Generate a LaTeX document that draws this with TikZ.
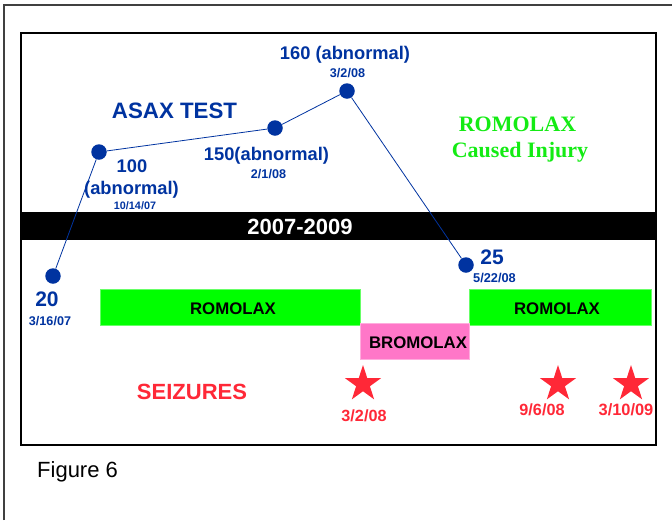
\documentclass[tikz,border=0pt]{standalone}
\usepackage{fontspec}
\setmainfont{Liberation Sans}
\newfontfamily\serifbold{Liberation Serif}
\usetikzlibrary{shapes.geometric}
\definecolor{tblue}{RGB}{0,51,160}
\definecolor{tgreen}{RGB}{0,255,0}
\definecolor{tgreentext}{RGB}{20,235,20}
\definecolor{tpink}{RGB}{255,119,200}
\definecolor{tred}{RGB}{255,40,55}
\newcommand{\fsz}[1]{\fontsize{#1}{#1}\selectfont}
\begin{document}
\begin{tikzpicture}[x=1pt,y=-1pt,
  dot/.style={circle,fill=tblue,inner sep=0pt,minimum size=15.5pt},
  link/.style={tblue,line width=0.8pt},
  bluelbl/.style={text=tblue,font=\bfseries\fsz{#1},inner sep=0pt},
  redlbl/.style={text=tred,font=\bfseries\fsz{#1},inner sep=0pt},
  barlbl/.style={text=black,font=\bfseries\fsz{16.8},inner sep=0pt},
  bar/.style={draw=#1!60!white,line width=0.6pt,fill=#1,inner sep=0pt,minimum height=36pt},
  seizure/.style={star,star points=5,star point ratio=2.618,fill=tred,inner sep=0pt,minimum size=38pt},
  greentext/.style={text=tgreentext,font=\serifbold\bfseries\fsz{22},inner sep=0pt}]
\useasboundingbox (0,0) rectangle (672,520);
% frames
\draw[black!75,line width=1.5pt] (4,520) -- (4,5) -- (672,5);
\draw[black,line width=1.2pt] (21,33) rectangle (656,445);
% timeline band
\node[fill=black,inner sep=0pt,minimum width=635pt,minimum height=28pt] (band) at (338.5,226) {};
\node[text=white,font=\bfseries\fsz{22},inner sep=0pt] (years) at (300,226.5) {2007-2009};
% dots
\node[dot] (p1) at (53,276) {};
\node[dot] (p2) at (99,152) {};
\node[dot] (p3) at (275,128) {};
\node[dot] (p4) at (347,91) {};
\node[dot] (p5) at (466,265) {};
\draw[link] (p1) -- (p2) -- (p3) -- (p4) -- (p5);
% ASAX labels
\node[bluelbl=22.3] (asax) at (174.5,110.5) {ASAX TEST};
\node[bluelbl=21] (v1) at (47,299) {20};
\node[bluelbl=12.6] (d1) at (50,321) {3/16/07};
\node[bluelbl=18.3] (v2) at (132,166.5) {100};
\node[bluelbl=18.3] (v2b) at (131.5,189.5) {(abnormal)};
\node[bluelbl=10.8] (d2) at (135,206) {10/14/07};
\node[bluelbl=18.3] (v3) at (266.5,155.5) {150(abnormal)};
\node[bluelbl=12.6] (d3) at (268.5,174) {2/1/08};
\node[bluelbl=18.3] (v4) at (345,55) {160 (abnormal)};
\node[bluelbl=12.6] (d4) at (347.5,73.5) {3/2/08};
\node[bluelbl=21] (v5) at (492,257) {25};
\node[bluelbl=12.8] (d5) at (494.5,277.5) {5/22/08};
% green caption
\node[greentext] (rom) at (517.5,124.5) {ROMOLAX};
\node[greentext] (inj) at (520,152.5) {Caused Injury};
% drug bars
\node[bar=tgreen,minimum width=260pt] (bar1) at (230,307) {};
\node[barlbl] (bar1t) at (233,309) {ROMOLAX};
\node[bar=tgreen,minimum width=182pt] (bar3) at (560,307) {};
\node[barlbl] (bar3t) at (557,309) {ROMOLAX};
\node[bar=tpink,minimum width=109pt] (bar2) at (414.5,341) {};
\node[barlbl] (bar2t) at (418,343) {BROMOLAX};
% seizures
\node[redlbl=22] (seiz) at (192,392) {SEIZURES};
\node[seizure] (s1) at (363,384) {};
\node[seizure] (s2) at (558,384) {};
\node[seizure] (s3) at (631,384) {};
\node[redlbl=16.2] (sd1) at (364,415.5) {3/2/08};
\node[redlbl=16.2] (sd2) at (542,410) {9/6/08};
\node[redlbl=16.4] (sd3) at (626,410) {3/10/09};
% caption
\node[anchor=base west,font=\fsz{22},inner sep=0pt] (fig) at (37,477) {Figure 6};
\end{tikzpicture}
\end{document}
